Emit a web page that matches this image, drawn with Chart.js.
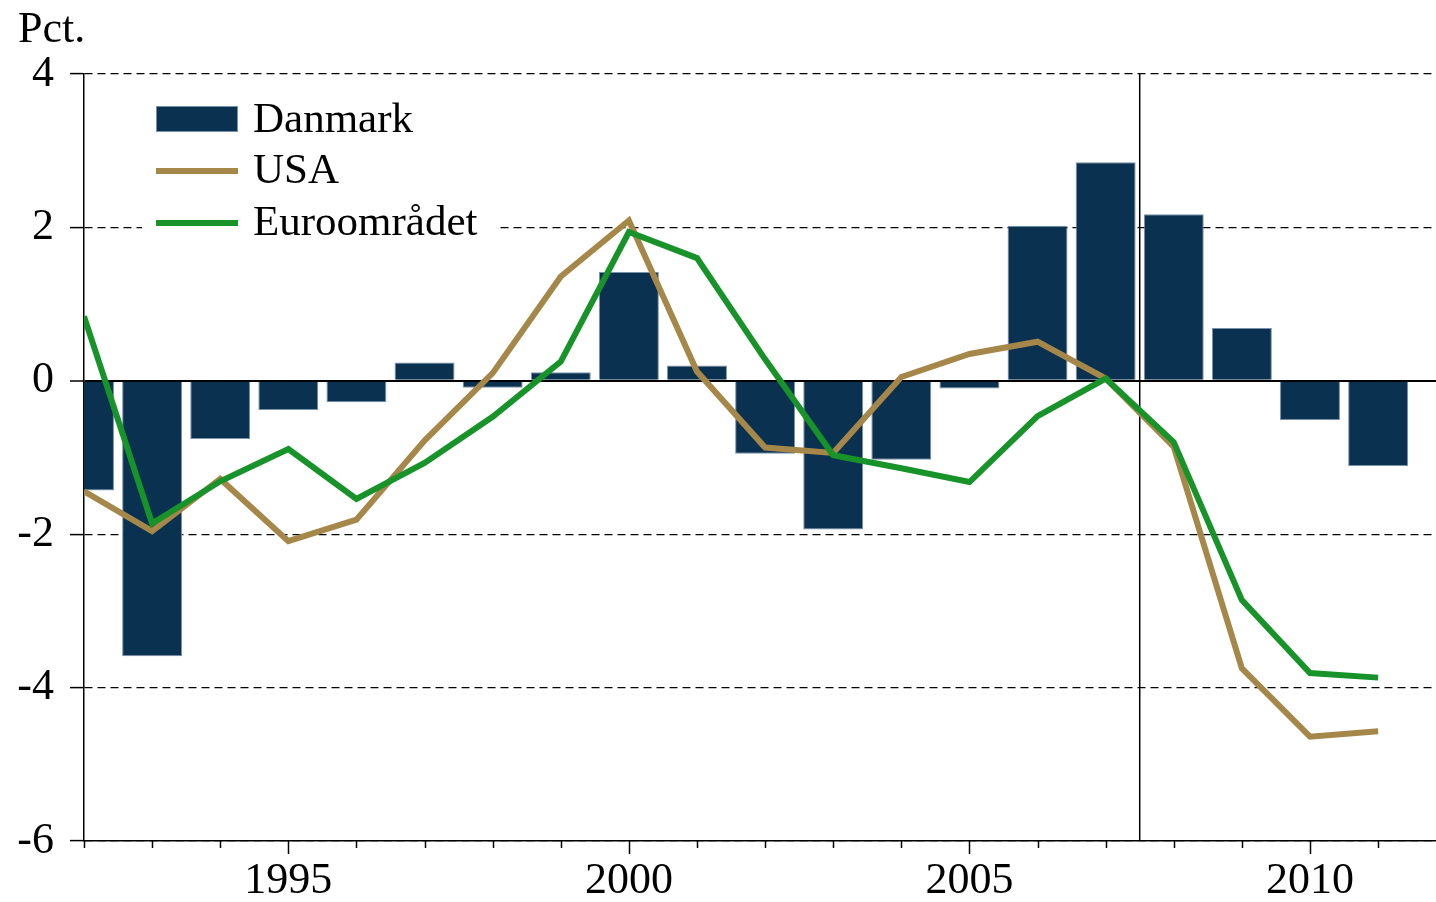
<!DOCTYPE html>
<html lang="da">
<head>
<meta charset="UTF-8">
<title>Pct.</title>
<script src="https://cdn.jsdelivr.net/npm/chart.js@4.4.0/dist/chart.umd.min.js"></script>
<style>
  body { margin: 0; background: #fff; }
  canvas { display: block; }
</style>
</head>
<body>
<canvas id="chart" width="1436" height="902"></canvas>
<script>
// data
const years = [1992, 1993, 1994, 1995, 1996, 1997, 1998, 1999, 2000, 2001,
               2002, 2003, 2004, 2005, 2006, 2007, 2008, 2009, 2010, 2011];
const danmark = [-1.43, -3.59, -0.76, -0.38, -0.28, 0.24, -0.09, 0.11, 1.42, 0.20,
                 -0.95, -1.94, -1.03, -0.10, 2.02, 2.85, 2.17, 0.69, -0.51, -1.11];
const usa = [-1.44, -1.96, -1.28, -2.09, -1.81, -0.78, 0.10, 1.36, 2.09, 0.12,
             -0.87, -0.94, 0.05, 0.35, 0.51, 0.03, -0.86, -3.75, -4.64, -4.57];
const euro = [0.84, -1.86, -1.31, -0.89, -1.54, -1.07, -0.47, 0.25, 1.94, 1.60,
              0.28, -0.97, -1.14, -1.32, -0.46, 0.03, -0.80, -2.86, -3.81, -3.87];
const xLabelYears = [1995, 2000, 2005, 2010];
const xMin = 1992, xMax = 2011.85;
const yMin = -6, yMax = 4, yStep = 2;
const dividerYear = 2007.5;
const unitLabel = 'Pct.';
const seriesNames = ['Danmark', 'USA', 'Euroområdet'];

const BAR = '#0a3250', USA_C = '#a5874a', EURO_C = '#17932a';
const FONT = 'Liberation Serif, Times New Roman, serif';

Chart.defaults.font.family = FONT;
Chart.defaults.color = '#000';

function pts(vals) {
    return vals.map((v, i) => ({ x: years[i], y: v }));
}

// drawn on top: unit label, year ticks, divider, legend
const overlay = {
    id: 'overlay',
    beforeDatasetsDraw(chart) {
        const { ctx, scales: { x, y } } = chart;
        ctx.save();
        ctx.fillStyle = '#fff';
        ctx.fillRect(142, 94, 354, 150);
        const xd = x.getPixelForValue(dividerYear);
        ctx.strokeStyle = '#000';
        ctx.lineWidth = 1.5;
        ctx.beginPath();
        ctx.moveTo(xd, y.top);
        ctx.lineTo(xd, y.bottom);
        ctx.stroke();
        ctx.restore();
    },
    afterDraw(chart) {
        const { ctx, scales: { x, y } } = chart;
        ctx.save();
        // year ticks under the axis
        ctx.strokeStyle = '#000';
        ctx.lineWidth = 1.5;
        years.forEach(yr => {
            const px = Math.round(x.getPixelForValue(yr)) + 0.5;
            const len = xLabelYears.includes(yr) ? 13 : 7;
            ctx.beginPath();
            ctx.moveTo(px, y.bottom);
            ctx.lineTo(px, y.bottom + len);
            ctx.stroke();
        });
        // unit
        ctx.fillStyle = '#000';
        ctx.font = '44px ' + FONT;
        ctx.textBaseline = 'alphabetic';
        ctx.fillText(unitLabel, 18, 42);
        // legend
        const ds = chart.data.datasets;
        ctx.font = '43px ' + FONT;
        const rows = [132, 183, 235];
        ds.forEach((d, i) => {
            const base = rows[i];
            if (d.type === 'bar' || !d.type) {
                ctx.fillStyle = d.backgroundColor;
                ctx.fillRect(156, 106, 82, 26);
                ctx.strokeStyle = d.borderColor;
                ctx.lineWidth = 1;
                ctx.strokeRect(156.5, 106.5, 81, 25);
            } else {
                ctx.strokeStyle = d.borderColor;
                ctx.lineWidth = 6;
                ctx.beginPath();
                ctx.moveTo(156, base - 12);
                ctx.lineTo(238, base - 12);
                ctx.stroke();
            }
            ctx.fillStyle = '#000';
            ctx.fillText(d.label, 253, base);
        });
        ctx.restore();
    }
};

new Chart(document.getElementById('chart'), {
    type: 'bar',
    data: {
        datasets: [
            {
                type: 'bar',
                label: seriesNames[0],
                data: pts(danmark),
                backgroundColor: BAR,
                borderColor: '#7891ab',
                borderWidth: 1,
                barPercentage: 0.88,
                categoryPercentage: 1,
                order: 3
            },
            {
                type: 'line',
                label: seriesNames[1],
                data: pts(usa),
                borderColor: USA_C,
                borderWidth: 6,
                pointRadius: 0,
                tension: 0,
                fill: false,
                order: 2
            },
            {
                type: 'line',
                label: seriesNames[2],
                data: pts(euro),
                borderColor: EURO_C,
                borderWidth: 6,
                pointRadius: 0,
                tension: 0,
                fill: false,
                order: 1
            }
        ]
    },
    options: {
        responsive: false,
        animation: false,
        layout: { padding: { top: 74, left: 0, right: 0, bottom: 0 } },
        plugins: {
            legend: { display: false },
            tooltip: { enabled: false }
        },
        scales: {
            x: {
                type: 'linear',
                min: xMin,
                max: xMax,
                offset: false,
                grid: { display: false, drawTicks: false, offset: false },
                border: { display: true, color: '#000', width: 1.5 },
                ticks: {
                    stepSize: 1,
                    includeBounds: false,
                    autoSkip: false,
                    maxRotation: 0,
                    padding: 14,
                    font: { size: 44 },
                    color: '#000',
                    callback: v => xLabelYears.includes(v) ? String(v) : ''
                },
                afterFit: s => { s.height = 61; }
            },
            y: {
                min: yMin,
                max: yMax,
                grid: {
                    color: '#000',
                    lineWidth: c => (c.tick && c.tick.value === 0) ? 2 : 1.2,
                    drawTicks: true,
                    tickLength: 14,
                    tickWidth: 1.5,
                    tickColor: '#000'
                },
                border: {
                    display: true,
                    color: '#000',
                    width: 1.5,
                    dash: c => (c.tick && c.tick.value !== 0) ? [8, 5] : []
                },
                ticks: {
                    stepSize: yStep,
                    padding: 16,
                    font: { size: 44 },
                    color: '#000'
                },
                afterFit: s => { s.width = 84; }
            }
        }
    },
    plugins: [overlay]
});
</script>
</body>
</html>
